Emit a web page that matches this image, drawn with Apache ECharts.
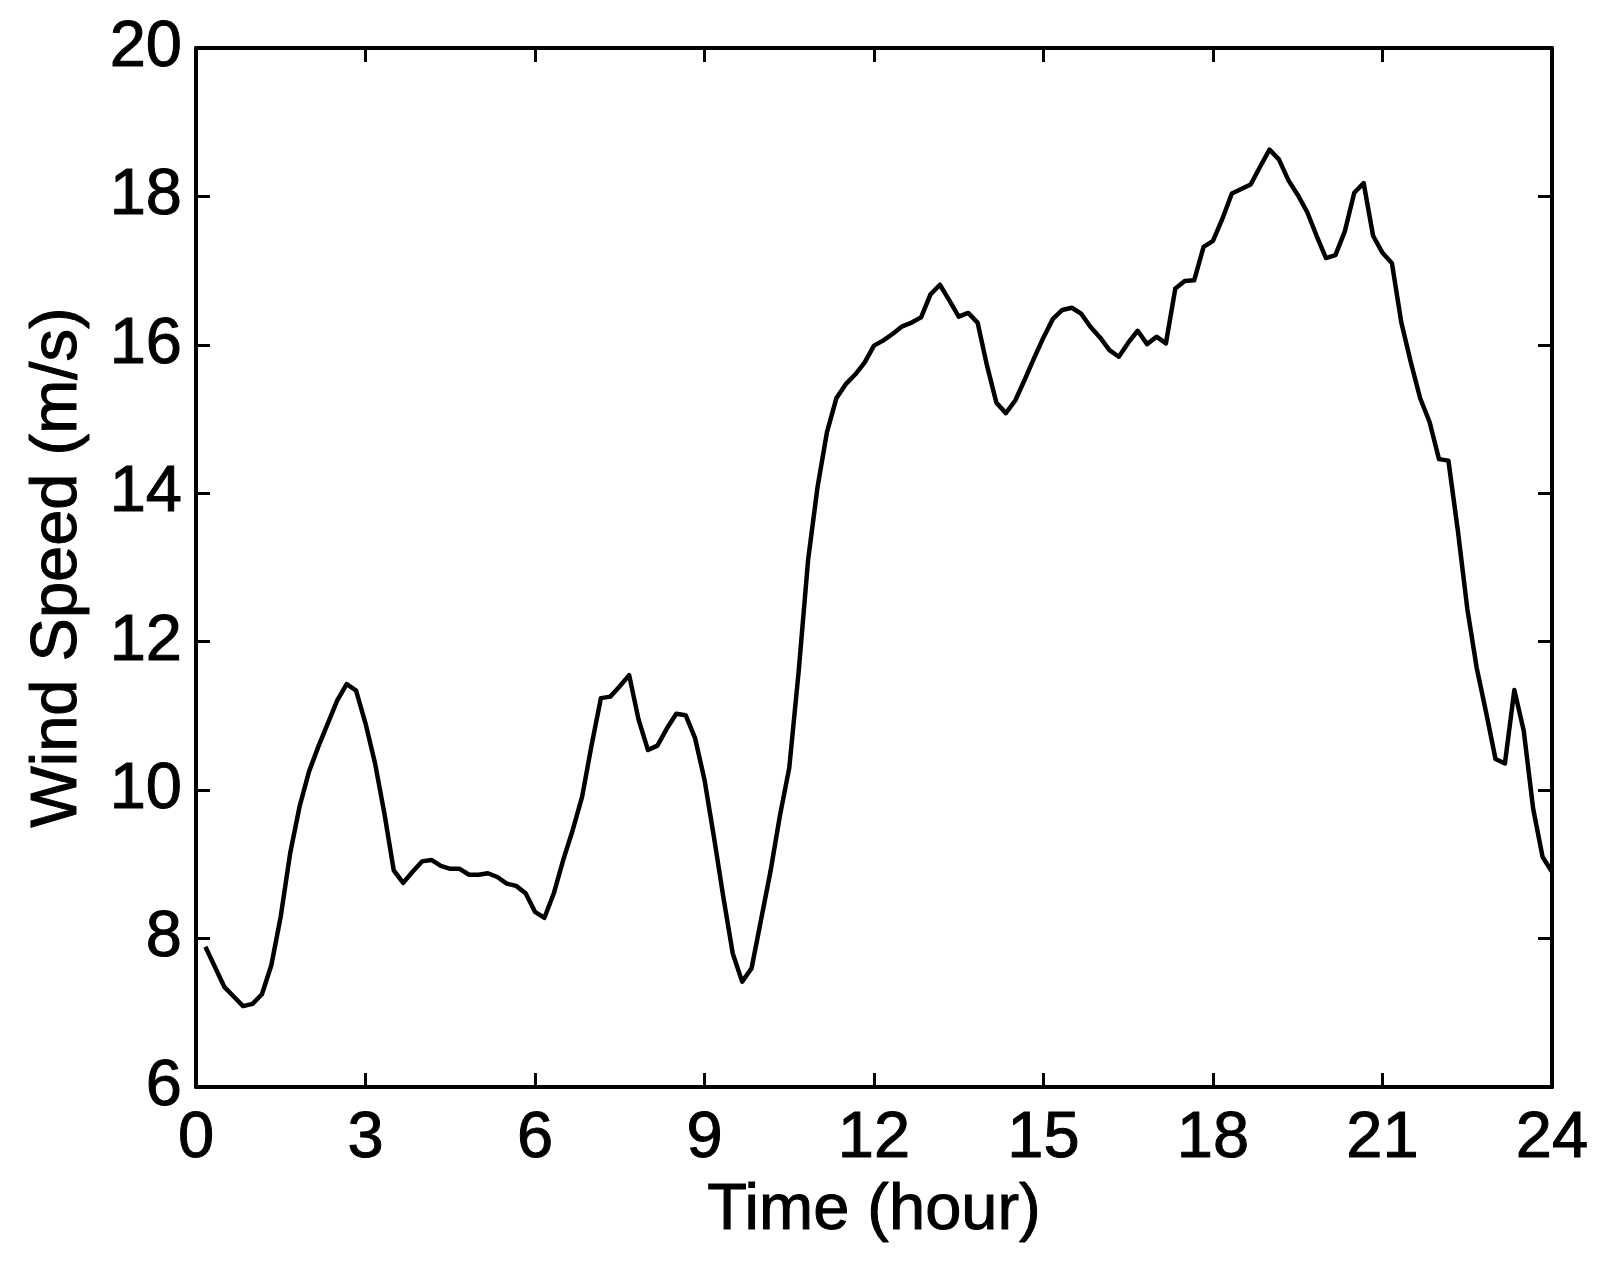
<!DOCTYPE html>
<html>
<head>
<meta charset="utf-8">
<script src="https://cdn.jsdelivr.net/npm/echarts@6/dist/echarts.min.js"></script>
<style>
  html, body { margin: 0; padding: 0; background: #fff; }
  #chart { width: 1604px; height: 1271px; }
</style>
</head>
<body>
<div id="chart"></div>
<script>
// 10-minute samples over one day, first sample at 00:10
var stepHours = 1 / 6;
var windSpeed = [
  7.89, 7.62, 7.35, 7.22, 7.09, 7.12, 7.25, 7.64, 8.30, 9.15, 9.78, 10.25,
  10.59, 10.90, 11.21, 11.43, 11.34, 10.90, 10.37, 9.69, 8.92, 8.75, 8.90, 9.04,
  9.06, 8.98, 8.94, 8.94, 8.86, 8.86, 8.88, 8.83, 8.74, 8.71, 8.61, 8.36,
  8.28, 8.61, 9.06, 9.46, 9.91, 10.60, 11.24, 11.26, 11.40, 11.55, 10.95, 10.54,
  10.60, 10.83, 11.03, 11.01, 10.70, 10.14, 9.37, 8.56, 7.80, 7.42, 7.60, 8.25,
  8.90, 9.65, 10.30, 11.60, 13.10, 14.08, 14.82, 15.28, 15.47, 15.60, 15.76, 15.99,
  16.06, 16.15, 16.25, 16.30, 16.37, 16.68, 16.81, 16.60, 16.38, 16.43, 16.30, 15.72,
  15.22, 15.08, 15.25, 15.53, 15.82, 16.10, 16.35, 16.47, 16.50, 16.42, 16.24, 16.10,
  15.93, 15.84, 16.03, 16.19, 16.01, 16.11, 16.02, 16.76, 16.86, 16.87, 17.32, 17.40,
  17.70, 18.04, 18.10, 18.16, 18.40, 18.63, 18.50, 18.22, 18.02, 17.79, 17.47, 17.17,
  17.21, 17.53, 18.05, 18.18, 17.47, 17.24, 17.10, 16.30, 15.77, 15.28, 14.96, 14.46,
  14.44, 13.50, 12.45, 11.65, 11.05, 10.42, 10.36, 11.35, 10.80, 9.75, 9.10, 8.90
];

var seriesData = windSpeed.map(function (v, i) {
  return [(i + 1) * stepHours, v];
});

var font = "'Liberation Sans', Arial, Helvetica, sans-serif";
var textStyle = {
  fontFamily: font, fontSize: 65, color: '#000',
  textBorderColor: '#000', textBorderWidth: 1
};
var axisLine = { show: true, onZero: false, lineStyle: { color: '#000', width: 4 } };
var axisTick = { show: true, inside: true, length: 14, lineStyle: { color: '#000', width: 3 } };

var chart = echarts.init(document.getElementById('chart'));
chart.setOption({
  animation: false,
  backgroundColor: '#fff',
  grid: {
    left: 196, right: 52, top: 48, bottom: 184,
    outerBoundsMode: 'none'
  },
  xAxis: [
    {
      type: 'value', min: 0, max: 24, interval: 3, position: 'bottom',
      name: 'Time (hour)', nameLocation: 'middle', nameGap: 92,
      nameTextStyle: textStyle,
      axisLine: axisLine, axisTick: axisTick,
      axisLabel: Object.assign({ margin: 20 }, textStyle),
      splitLine: { show: false }
    },
    {
      type: 'value', min: 0, max: 24, interval: 3, position: 'top',
      axisLine: axisLine, axisTick: axisTick,
      axisLabel: { show: false }, splitLine: { show: false }
    }
  ],
  yAxis: [
    {
      type: 'value', min: 6, max: 20, interval: 2, position: 'left',
      name: 'Wind Speed (m/s)', nameLocation: 'middle', nameGap: 105,
      nameTextStyle: textStyle,
      axisLine: axisLine, axisTick: axisTick,
      axisLabel: Object.assign({ margin: 14 }, textStyle),
      splitLine: { show: false }
    },
    {
      type: 'value', min: 6, max: 20, interval: 2, position: 'right',
      axisLine: axisLine, axisTick: axisTick,
      axisLabel: { show: false }, splitLine: { show: false }
    }
  ],
  series: [
    {
      type: 'line',
      data: seriesData,
      showSymbol: false,
      lineStyle: { color: '#000', width: 4.5, join: 'round' },
      itemStyle: { color: '#000' }
    }
  ]
});
</script>
</body>
</html>
